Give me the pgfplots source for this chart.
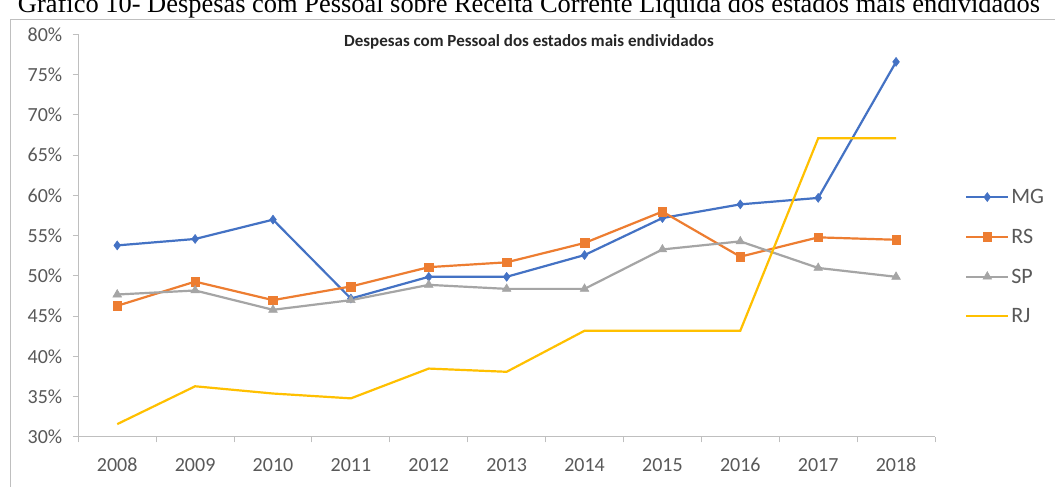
\documentclass[border=0pt]{standalone}
\usepackage{pgfplots}
\pgfplotsset{compat=1.18}
\usepackage{fontspec}
\setmainfont{Carlito}
\newfontfamily\capfont{Liberation Serif}
\definecolor{cMG}{HTML}{4472C4}
\definecolor{cRS}{HTML}{ED7D31}
\definecolor{cSP}{HTML}{A5A5A5}
\definecolor{cRJ}{HTML}{FFC000}
\definecolor{txt}{HTML}{595959}
\definecolor{axl}{HTML}{BFBFBF}
\begin{document}
\begin{tikzpicture}[x=1pt,y=1pt]
\useasboundingbox (0,0) rectangle (1055,487);
\fill[white] (0,0) rectangle (1055,487);
\node[anchor=base,inner sep=0] at (529,474) {\resizebox{1022pt}{!}{\capfont Gráfico 10- Despesas com Pessoal sobre Receita Corrente Líquida dos estados mais endividados}};
\draw[color=black!25,line width=1pt] (10,-5) -- (10,467) -- (1065,467);
\begin{axis}[
  at={(78.3pt,50pt)}, anchor=south west,
  scale only axis, width=856.7pt, height=402.5pt,
  xmin=-0.5, xmax=10.5, ymin=30, ymax=80,
  axis x line*=bottom, axis y line*=left,
  axis line style={axl, line width=1pt},
  xtick={0,...,10},
  xticklabels={2008,2009,2010,2011,2012,2013,2014,2015,2016,2017,2018},
  major x tick style={draw=none},
  minor xtick={-0.5,0.5,...,10.5},
  minor x tick style={axl, line width=1pt},
  minor tick length=5.5pt,
  ytick={30,35,...,80},
  y tick style={axl, line width=1pt},
  major tick length=5.5pt,
  tick align=outside,
  yticklabel={\pgfmathprintnumber{\tick}\%},
  /pgf/number format/assume math mode=true,
  ticklabel style={font=\fontsize{20}{22}\selectfont, text=txt},
  xticklabel style={yshift=-12pt},
  yticklabel style={xshift=-7pt},
  legend style={at={(1.035,0.448)}, anchor=west, draw=none, fill=none,
    font=\fontsize{22}{24}\selectfont, text=txt, row sep=20pt, inner sep=0pt,
    cells={anchor=west}},
  legend image code/.code={\draw[mark repeat=2,mark phase=2,#1] plot coordinates {(0pt,0pt)(21pt,0pt)(42pt,0pt)};},
  every axis plot/.append style={line width=2.2pt},
  clip=false,
]
\addplot[cMG, mark=diamond*, mark size=4.5pt, mark options={line width=0.5pt, fill=cMG}] coordinates {
(0,53.8)(1,54.6)(2,57.0)(3,47.2)(4,49.9)(5,49.9)(6,52.6)(7,57.2)(8,58.9)(9,59.7)(10,76.6)};
\addlegendentry{MG}
\addplot[cRS, mark=square*, mark size=4.3pt, mark options={line width=0.5pt, fill=cRS}] coordinates {
(0,46.3)(1,49.3)(2,47.0)(3,48.7)(4,51.1)(5,51.7)(6,54.1)(7,58.0)(8,52.4)(9,54.8)(10,54.5)};
\addlegendentry{RS}
\addplot[cSP, mark=triangle*, mark size=5pt, mark options={line width=0.5pt, fill=cSP}] coordinates {
(0,47.7)(1,48.2)(2,45.8)(3,47.0)(4,48.9)(5,48.4)(6,48.4)(7,53.3)(8,54.3)(9,51.0)(10,49.9)};
\addlegendentry{SP}
\addplot[cRJ, no markers] coordinates {
(0,31.6)(1,36.3)(2,35.4)(3,34.8)(4,38.5)(5,38.1)(6,43.2)(7,43.2)(8,43.2)(9,67.1)(10,67.1)};
\addlegendentry{RJ}
\node[anchor=base, font=\bfseries\fontsize{17}{19}\selectfont, text=black!85] at (axis description cs:0.526,0.97) {Despesas com Pessoal dos estados mais endividados};
\end{axis}
\end{tikzpicture}
\end{document}
